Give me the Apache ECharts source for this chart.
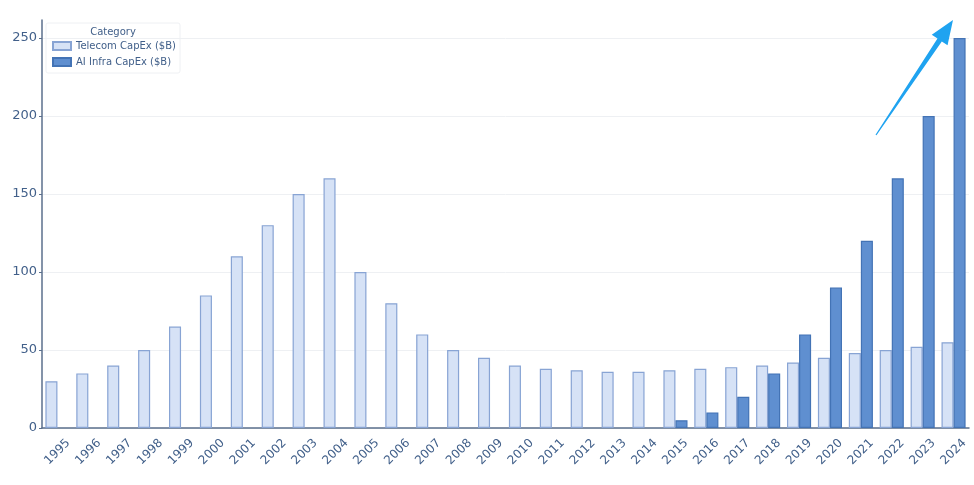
<!DOCTYPE html>
<html>
<head>
<meta charset="utf-8">
<script src="https://cdn.jsdelivr.net/npm/echarts@6/dist/echarts.min.js"></script>
<style>
  html, body { margin: 0; padding: 0; background: #fff; }
  #chart { width: 974px; height: 485px; }
</style>
</head>
<body>
<div id="chart"></div>
<script>
const years = ['1995', '1996', '1997', '1998', '1999', '2000', '2001', '2002', '2003', '2004',
  '2005', '2006', '2007', '2008', '2009', '2010', '2011', '2012', '2013', '2014',
  '2015', '2016', '2017', '2018', '2019', '2020', '2021', '2022', '2023', '2024'];
const telecomCapex = [30, 35, 40, 50, 65, 85, 110, 130, 150, 160,
  100, 80, 60, 50, 45, 40, 38, 37, 36, 36,
  37, 38, 39, 40, 42, 45, 48, 50, 52, 55];
const aiCapex = [0, 0, 0, 0, 0, 0, 0, 0, 0, 0,
  0, 0, 0, 0, 0, 0, 0, 0, 0, 0,
  5, 10, 20, 35, 60, 90, 120, 160, 200, 250];
const yTicks = [0, 50, 100, 150, 200, 250];

const textColor = '#42608a';
const axisColor = '#5b6f8c';

// arrow annotation (pixel space)
const tail = [876, 135], tip = [953, 20];
const dx = tip[0] - tail[0], dy = tip[1] - tail[1];
const len = Math.hypot(dx, dy);
const ux = dx / len, uy = dy / len, px = -uy, py = ux;
const base = [tip[0] - 24 * ux, tip[1] - 24 * uy];

const chart = echarts.init(document.getElementById('chart'));
chart.setOption({
  animation: false,
  textStyle: { fontFamily: 'DejaVu Sans' },
  grid: { left: 42, right: 5, top: 20, bottom: 57, containLabel: false },
  legend: {
    orient: 'vertical',
    left: 52,
    top: 41,
    icon: 'rect',
    itemWidth: 18,
    itemHeight: 8,
    itemGap: 6,
    padding: 0,
    textStyle: { color: textColor, fontSize: 10 },
    data: ['Telecom CapEx ($B)', 'AI Infra CapEx ($B)']
  },
  xAxis: {
    type: 'category',
    data: years,
    axisLine: { lineStyle: { color: axisColor, width: 1.5 } },
    axisTick: { alignWithLabel: true, length: 3, lineStyle: { color: axisColor } },
    axisLabel: {
      rotate: 45, color: textColor, fontSize: 12, margin: 24, interval: 0,
      align: 'center', verticalAlign: 'middle'
    }
  },
  yAxis: {
    type: 'value',
    min: 0,
    max: 261.5,
    interval: 50,
    axisLine: { show: true, lineStyle: { color: axisColor, width: 1.5 } },
    axisTick: { show: true, length: 3, lineStyle: { color: axisColor } },
    axisLabel: {
      color: textColor, fontSize: 13, margin: 5, showMaxLabel: false,
      formatter: v => (yTicks.includes(v) ? String(v) : '')
    },
    splitLine: { show: true, showMaxLine: false, lineStyle: { color: '#eef0f3', width: 1 } }
  },
  series: [
    {
      name: 'Telecom CapEx ($B)',
      type: 'bar',
      data: telecomCapex,
      barWidth: '39%',
      barGap: '0%',
      itemStyle: { color: '#d6e2f6', borderColor: '#88a4d4', borderWidth: 1.2 }
    },
    {
      name: 'AI Infra CapEx ($B)',
      type: 'bar',
      data: aiCapex.map(v => (v === 0 ? '-' : v)),
      barWidth: '39%',
      itemStyle: { color: '#5f8fd0', borderColor: '#4373b5', borderWidth: 1.2 }
    }
  ],
  graphic: [
    {
      type: 'rect',
      shape: { x: 46, y: 23, width: 134, height: 50, r: 2 },
      style: { fill: 'rgba(255,255,255,0.8)', stroke: '#eef0f3', lineWidth: 1 },
      z: 0
    },
    {
      type: 'text',
      x: 113, y: 27,
      style: { text: 'Category', fill: textColor, font: '10px DejaVu Sans', align: 'center' }
    },
    {
      type: 'polygon',
      shape: {
        points: [
          [tail[0] - px * 0.6, tail[1] - py * 0.6],
          [base[0] - px * 2.6, base[1] - py * 2.6],
          [base[0] - px * 9.5, base[1] - py * 9.5],
          tip,
          [base[0] + px * 9.5, base[1] + py * 9.5],
          [base[0] + px * 2.6, base[1] + py * 2.6],
          [tail[0] + px * 0.6, tail[1] + py * 0.6]
        ]
      },
      style: { fill: '#1fa3f0' },
      z: 100
    }
  ]
});
</script>
</body>
</html>
